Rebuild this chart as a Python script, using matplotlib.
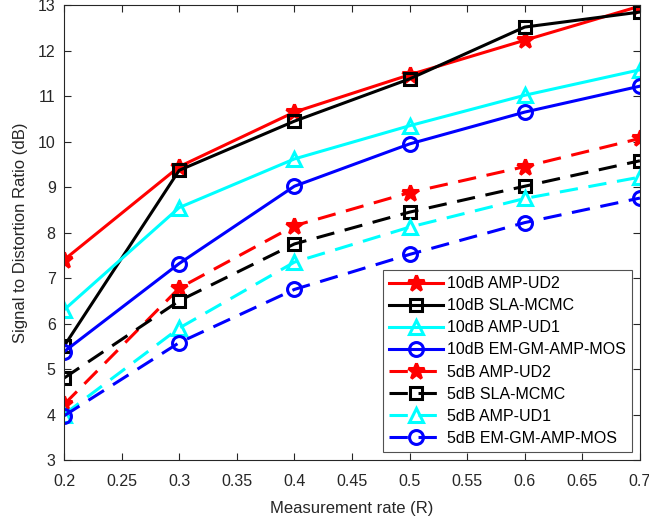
import numpy as np
import matplotlib.pyplot as plt

plt.rcParams['font.family'] = ['Liberation Sans', 'DejaVu Sans']

rate = [0.2, 0.3, 0.4, 0.5, 0.6, 0.7]

amp_ud2_10 = [7.4, 9.45, 10.65, 11.47, 12.23, 12.98]
sla_10 = [5.5, 9.37, 10.45, 11.38, 12.52, 12.85]
amp_ud1_10 = [6.3, 8.55, 9.62, 10.35, 11.02, 11.58]
em_10 = [5.38, 7.32, 9.02, 9.95, 10.65, 11.22]
amp_ud2_5 = [4.22, 6.78, 8.15, 8.88, 9.45, 10.07]
sla_5 = [4.8, 6.5, 7.75, 8.45, 9.02, 9.58]
amp_ud1_5 = [4.0, 5.9, 7.35, 8.12, 8.75, 9.22]
em_5 = [3.97, 5.58, 6.75, 7.52, 8.22, 8.76]

series = [
    ('10dB AMP-UD2', amp_ud2_10, '#ff0000', '*', '-'),
    ('10dB SLA-MCMC', sla_10, '#000000', 's', '-'),
    ('10dB AMP-UD1', amp_ud1_10, '#00ffff', '^', '-'),
    ('10dB EM-GM-AMP-MOS', em_10, '#0000ff', 'o', '-'),
    ('5dB AMP-UD2', amp_ud2_5, '#ff0000', '*', '--'),
    ('5dB SLA-MCMC', sla_5, '#000000', 's', '--'),
    ('5dB AMP-UD1', amp_ud1_5, '#00ffff', '^', '--'),
    ('5dB EM-GM-AMP-MOS', em_5, '#0000ff', 'o', '--'),
]

fig = plt.figure(figsize=(6.49, 5.23), dpi=100)
ax = fig.add_axes([0.0986, 0.1205, 0.8874, 0.8695])

for label, vals, c, m, ls in series:
    if m == '*':
        ms, mfc = 12, c
    elif m == 's':
        ms, mfc = 8.5, 'none'
    else:
        ms, mfc = 10, 'none'
    kw = dict(dashes=(6, 3.5)) if ls == '--' else {}
    ax.plot(rate, vals, color=c, marker=m, linestyle=ls, linewidth=2.2,
            markersize=ms, markerfacecolor=mfc, markeredgewidth=2.2,
            label=label, **kw)

ax.set_xlim(0.2, 0.7)
ax.set_ylim(3, 13)
ax.set_xticks(np.arange(0.2, 0.701, 0.05))
ax.set_xticklabels(['0.2', '0.25', '0.3', '0.35', '0.4', '0.45', '0.5', '0.55', '0.6', '0.65', '0.7'])
ax.set_yticks(np.arange(3, 14, 1))
ax.tick_params(direction='in', top=True, right=True, labelsize=11.5, colors='#262626', length=5)
ax.tick_params(axis='x', pad=10)
ax.tick_params(axis='y', pad=6)
for s in ax.spines.values():
    s.set_color('#262626')
    s.set_linewidth(0.8)
ax.set_xlabel('Measurement rate (R)', fontsize=12, color='#262626', labelpad=9)
ax.set_ylabel('Signal to Distortion Ratio (dB)', fontsize=12, color='#262626', labelpad=7)

leg = ax.legend(loc='lower right', fontsize=11.5, fancybox=False, edgecolor='#262626',
                handlelength=3.4, borderaxespad=0.5, labelspacing=0.44, handletextpad=0.2,
                borderpad=0.4)
leg.get_frame().set_linewidth(0.8)

fig.savefig('out.png', dpi=100)
